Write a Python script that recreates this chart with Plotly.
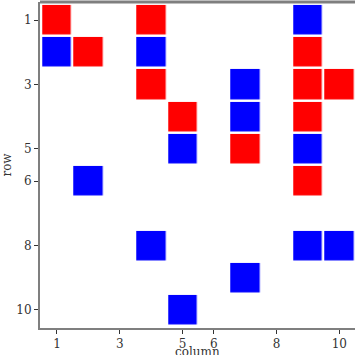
import plotly.graph_objects as go

rows = [1, 1, 1, 2, 2, 2, 2, 3, 3, 3, 3, 4, 4, 4, 5, 5, 5, 6, 6, 8, 8, 8, 9, 10]
cols = [1, 4, 9, 1, 2, 4, 9, 4, 7, 9, 10, 5, 7, 9, 5, 7, 9, 2, 9, 4, 9, 10, 7, 5]
kind = ["r", "r", "b", "b", "r", "b", "r", "r", "b", "r", "r", "r", "b", "r", "b", "r", "b", "b", "r", "b", "b", "b", "b", "b"]
tick_vals = [1, 3, 5, 6, 8, 10]

z = [[None] * 10 for _ in range(10)]
for r, c, k in zip(rows, cols, kind):
    z[r - 1][c - 1] = 0 if k == "r" else 1

fig = go.Figure(go.Heatmap(
    z=z, x=list(range(1, 11)), y=list(range(1, 11)),
    colorscale=[[0, "#ff0000"], [0.5, "#ff0000"], [0.5, "#0000ff"], [1, "#0000ff"]],
    zmin=0, zmax=1, showscale=False, xgap=2.5, ygap=2.5, hoverinfo="skip",
))

font_txt = dict(family="DejaVu Serif", size=12, color="#333333")

axis_common = dict(
    showgrid=False, zeroline=False, showline=True, linecolor="#7f7f7f", linewidth=2,
    ticks="outside", ticklen=4, tickcolor="#333333", tickwidth=1,
    tickvals=tick_vals, ticktext=[str(v) for v in tick_vals], automargin=False,
    tickfont=font_txt,
)

fig.update_layout(
    width=355, height=355,
    margin=dict(l=40, r=0, t=2, b=27),
    plot_bgcolor="white", paper_bgcolor="white",
    xaxis=dict(range=[0.46, 10.5], **axis_common),
    yaxis=dict(range=[10.56, 0.44], title=dict(text="row", standoff=8, font=font_txt),
               **axis_common),
    shapes=[dict(type="line", xref="paper", yref="paper", x0=0, x1=1, y0=1, y1=1,
                 line=dict(color="#7f7f7f", width=3))],
    annotations=[dict(text="column", xref="paper", yref="paper", x=0.5, y=0,
                      xanchor="center", yanchor="top", yshift=-15, showarrow=False,
                      font=font_txt)],
)

fig.write_html(
    "out.html",
    config={"displayModeBar": False},
    post_script="document.body.style.margin='0';document.body.style.overflow='hidden';",
)
